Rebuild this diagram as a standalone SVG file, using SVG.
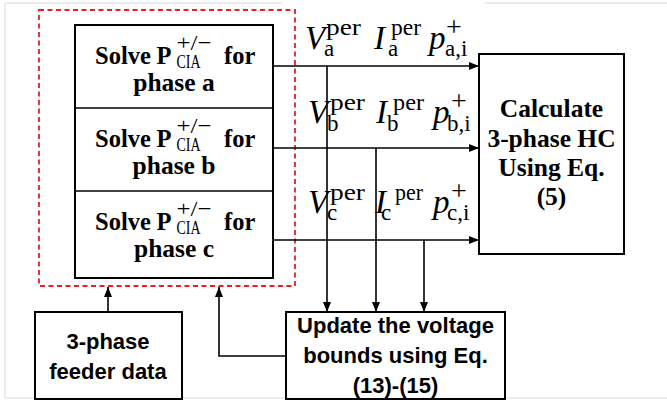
<svg xmlns="http://www.w3.org/2000/svg" width="667" height="405" viewBox="0 0 667 405">
<style>
.box{fill:#fff;stroke:#000;stroke-width:2}
.ln{stroke:#000;stroke-width:1.6;fill:none}
.frame{stroke:#d9d9d9;stroke-width:1;fill:none}
.sb{font-family:"Liberation Serif",serif;font-weight:bold;font-size:25.5px;fill:#000}
.sv{font-family:"Liberation Serif",serif;font-weight:bold;font-size:24.5px;fill:#000}
.sr{font-family:"Liberation Serif",serif;fill:#000}
.ss{font-family:"Liberation Sans",sans-serif;font-weight:bold;font-size:22px;fill:#000}
.mi{font-family:"Liberation Serif",serif;font-style:italic;font-size:33px;fill:#000}
.sup{font-family:"Liberation Serif",serif;font-size:23px;fill:#000}
.pl{font-family:"Liberation Serif",serif;font-size:28px;fill:#000}
</style>
<defs>
<marker id="arr" markerUnits="userSpaceOnUse" markerWidth="10" markerHeight="8" refX="10" refY="4" orient="auto">
<path d="M0,0 L10,4 L0,8 z" fill="#000"/>
</marker>
</defs>
<g id="frame">
<path class="frame" d="M5,3 H282 M485,3 H667 M5,3 V398 M5,398 H667"/>
</g>
<g id="group-cia">
<rect x="39" y="10" width="256" height="276" fill="none" stroke="#f01c24" stroke-width="1.8" stroke-dasharray="5,3.5"/>
</g>
<g id="solve">
<rect class="box" x="75" y="25" width="198" height="253"/>
<line class="ln" x1="75" y1="108" x2="273" y2="108" stroke-width="2"/>
<line class="ln" x1="75" y1="191" x2="273" y2="191" stroke-width="2"/>
</g>
<g id="solve-a">
<text class="sv" x="95" y="63.5">Solve</text>
<text class="sv" x="156.5" y="63.5">P</text>
<text class="sr" x="176.5" y="50" font-size="22" textLength="35" lengthAdjust="spacingAndGlyphs">+/−</text>
<text class="sr" x="176.5" y="68" font-size="18" textLength="24" lengthAdjust="spacingAndGlyphs">CIA</text>
<text class="sv" x="224" y="63.5">for</text>
<text class="sb" x="174" y="91" text-anchor="middle">phase a</text>
</g>
<g id="solve-b">
<text class="sv" x="95" y="146.5">Solve</text>
<text class="sv" x="156.5" y="146.5">P</text>
<text class="sr" x="176.5" y="133" font-size="22" textLength="35" lengthAdjust="spacingAndGlyphs">+/−</text>
<text class="sr" x="176.5" y="151" font-size="18" textLength="24" lengthAdjust="spacingAndGlyphs">CIA</text>
<text class="sv" x="224" y="146.5">for</text>
<text class="sb" x="174" y="174" text-anchor="middle">phase b</text>
</g>
<g id="solve-c">
<text class="sv" x="95" y="229.5">Solve</text>
<text class="sv" x="156.5" y="229.5">P</text>
<text class="sr" x="176.5" y="216" font-size="22" textLength="35" lengthAdjust="spacingAndGlyphs">+/−</text>
<text class="sr" x="176.5" y="234" font-size="18" textLength="24" lengthAdjust="spacingAndGlyphs">CIA</text>
<text class="sv" x="224" y="229.5">for</text>
<text class="sb" x="174" y="257" text-anchor="middle">phase c</text>
</g>
<g id="calc">
<rect class="box" x="479" y="54" width="145" height="200"/>
<text class="sb" x="551.5" y="117" text-anchor="middle">Calculate</text>
<text class="sb" x="551.5" y="147" text-anchor="middle">3-phase HC</text>
<text class="sb" x="551.5" y="176" text-anchor="middle">Using Eq.</text>
<text class="sb" x="551.5" y="205" text-anchor="middle">(5)</text>
</g>
<g id="feeder">
<rect class="box" x="35" y="312" width="147" height="87"/>
<text class="ss" x="108" y="349" text-anchor="middle">3-phase</text>
<text class="ss" x="108" y="379" text-anchor="middle">feeder data</text>
</g>
<g id="update">
<rect class="box" x="286" y="312" width="219" height="87"/>
<text class="ss" x="395.5" y="333" text-anchor="middle">Update the voltage</text>
<text class="ss" x="395.5" y="363" text-anchor="middle">bounds using Eq.</text>
<text class="ss" x="395.5" y="393" text-anchor="middle">(13)-(15)</text>
</g>
<g id="connectors">
<line class="ln" x1="273" y1="66" x2="479" y2="66" marker-end="url(#arr)"/>
<line class="ln" x1="273" y1="148" x2="479" y2="148" marker-end="url(#arr)"/>
<line class="ln" x1="273" y1="240" x2="479" y2="240" marker-end="url(#arr)"/>
<line class="ln" x1="327" y1="66" x2="327" y2="312" marker-end="url(#arr)"/>
<line class="ln" x1="376" y1="148" x2="376" y2="312" marker-end="url(#arr)"/>
<line class="ln" x1="424" y1="240" x2="424" y2="312" marker-end="url(#arr)"/>
<line class="ln" x1="108" y1="312" x2="108" y2="287" marker-end="url(#arr)"/>
<path class="ln" d="M286,356 H219 V287" marker-end="url(#arr)"/>
</g>
<g id="labels">
<text class="mi" x="305" y="49">V</text><text class="sup" x="326" y="35" textLength="35" lengthAdjust="spacingAndGlyphs">per</text><text class="sup" x="324" y="56">a</text>
<text class="mi" x="374" y="49">I</text><text class="sup" x="391" y="35" textLength="30" lengthAdjust="spacingAndGlyphs">per</text><text class="sup" x="388" y="56">a</text>
<text class="mi" x="429" y="49">p</text><text class="pl" x="446" y="36">+</text><text class="sup" x="445" y="56">a,i</text>
<text class="mi" x="308" y="123">V</text><text class="sup" x="330" y="110" textLength="35" lengthAdjust="spacingAndGlyphs">per</text><text class="sup" x="327" y="131">b</text>
<text class="mi" x="376" y="123">I</text><text class="sup" x="393" y="110" textLength="31" lengthAdjust="spacingAndGlyphs">per</text><text class="sup" x="387" y="131">b</text>
<text class="mi" x="433" y="123">p</text><text class="pl" x="451" y="110">+</text><text class="sup" x="447" y="131">b,i</text>
<text class="mi" x="308" y="213">V</text><text class="sup" x="330" y="200" textLength="35" lengthAdjust="spacingAndGlyphs">per</text><text class="sup" x="327" y="220">c</text>
<text class="mi" x="375" y="213">I</text><text class="sup" x="395" y="200" textLength="28" lengthAdjust="spacingAndGlyphs">per</text><text class="sup" x="381" y="220">c</text>
<text class="mi" x="433" y="213">p</text><text class="pl" x="451" y="200">+</text><text class="sup" x="447" y="220">c,i</text>
</g>
</svg>
